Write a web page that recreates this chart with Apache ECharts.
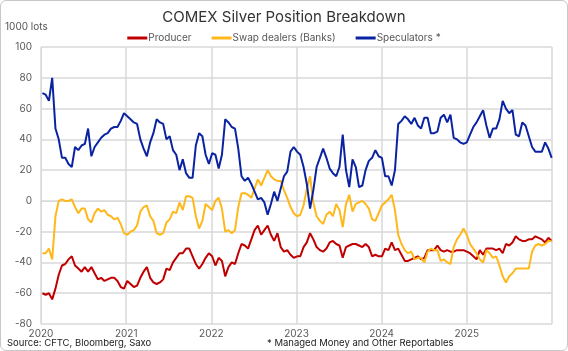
<!DOCTYPE html>
<html>
<head>
<meta charset="utf-8">
<script src="https://cdn.jsdelivr.net/npm/echarts@6/dist/echarts.min.js"></script>
<style>
  html, body { margin: 0; padding: 0; background: #fff; }
  #frame { position: absolute; left: 0; top: 0; width: 566px; height: 349px; border: 1px solid #c8c8c8; border-radius: 6px; overflow: hidden; }
  #chart { width: 566px; height: 349px; }
</style>
</head>
<body>
<div id="frame"><div id="chart"></div></div>
<script>
// fortnightly COT readings, 1000 lots, first report 7 Jan 2020
var producer = [
  -60, -61, -60, -64, -57, -48, -42, -41, -38, -36, -42, -44, -46, -43, -46, -43, -47, -51, -50, -52, -51, -50, -50, -52, -56, -57,
  -52, -54, -56, -55, -50, -46, -43, -50, -53, -54, -53, -51, -44, -45, -40, -37, -34, -34, -31, -31, -36, -41, -44, -41, -37, -34,
  -36, -42, -37, -39, -49, -43, -40, -41, -34, -28, -29, -31, -25, -19, -16, -22, -19, -16, -22, -26, -21, -30, -33, -32, -35, -37,
  -36, -36, -30, -27, -21, -25, -30, -32, -33, -31, -27, -26, -28, -29, -37, -30, -29, -28, -28, -29, -30, -28, -30, -36, -35, -36,
  -36, -31, -32, -27, -32, -31, -35, -39, -39, -38, -37, -36, -38, -37, -32, -32, -32, -29, -32, -33, -32, -33, -33, -32, -32, -32,
  -33, -34, -36, -38, -32, -35, -31, -31, -31, -32, -31, -34, -28, -29, -27, -23, -25, -26, -26, -25, -25, -23, -24, -25, -27, -24, -26
];
var swapDealers = [
  -34, -34, -31, -38, -10, 0, 1, 0, 0, 1, -4, -8, -5, -5, -12, -14, -8, -5, -7, -6, -9, -10, -12, -11, -15, -21,
  -22, -20, -19, -16, -7, -4, -3, -10, -13, -21, -22, -21, -14, -12, -7, -8, -1, -6, 3, 3, 2, -10, -18, -13, -2, -4,
  -6, 0, 2, -5, -20, -19, -21, -19, -4, 5, 5, 4, 2, 8, 14, 10, 15, 20, 16, 14, 13, 13, 7, 2, -4, -8,
  -10, -9, -3, 8, 16, -1, -10, -13, -15, -9, -7, -10, -2, -6, -17, -2, 4, -7, -2, -1, 0, -2, -5, -12, -13, -8,
  -3, -1, 1, 4, -6, -22, -28, -32, -34, -33, -38, -37, -37, -40, -33, -31, -32, -32, -39, -38, -40, -41, -30, -25, -22, -18,
  -22, -28, -31, -34, -38, -40, -32, -34, -37, -36, -42, -49, -53, -49, -47, -44, -44, -44, -44, -44, -33, -29, -28, -29, -28, -26, -26
];
var speculators = [
  70, 69, 65, 80, 47, 40, 28, 28, 24, 22, 35, 33, 36, 37, 47, 29, 35, 38, 41, 43, 44, 47, 48, 48, 52, 57,
  55, 53, 51, 50, 40, 34, 29, 38, 44, 53, 51, 50, 40, 42, 33, 30, 20, 27, 18, 15, 15, 36, 44, 42, 30, 24,
  31, 30, 21, 30, 53, 51, 48, 47, 34, 16, 13, 15, 11, 6, 1, 2, -1, -9, -2, 6, 0, 8, 16, 19, 32, 35,
  32, 30, 22, 11, -5, 7, 22, 28, 34, 28, 21, 18, 16, 22, 43, 20, 9, 27, 22, 9, 10, 20, 26, 28, 33, 29,
  28, 16, 16, 10, 20, 50, 52, 55, 53, 50, 54, 49, 47, 54, 54, 44, 44, 45, 54, 56, 51, 56, 41, 40, 38, 37,
  38, 43, 48, 51, 55, 59, 49, 41, 47, 47, 53, 65, 60, 57, 59, 43, 42, 51, 49, 42, 35, 32, 32, 32, 38, 34, 28
];
var yearTicks = [2020, 2021, 2022, 2023, 2024, 2025];

// report date as fractional year
function when(i) {
  return 2020 + (6 + 14 * i) / 365.25;
}
function pairs(arr) {
  return arr.map(function (v, i) { return [when(i), v]; });
}

var font = 'Inter, Roboto, sans-serif';
var myChart = echarts.init(document.getElementById('chart'));
var option = {
  animation: false,
  textStyle: { fontFamily: font },
  title: {
    text: 'COMEX Silver Position Breakdown',
    left: 'center',
    top: 4,
    textStyle: { fontSize: 15, fontWeight: 'normal', color: '#333', fontFamily: font }
  },
  legend: {
    top: 27,
    left: 'center',
    itemGap: 20,
    itemWidth: 20,
    itemHeight: 3,
    icon: 'rect',
    textStyle: { fontSize: 10, color: '#555', fontFamily: font, padding: [0, 0, 0, -4] },
    data: ['Producer', 'Swap dealers (Banks)', 'Speculators *']
  },
  graphic: [
    { type: 'text', left: 4, top: 21, style: { text: '1000 lots', fontSize: 10, fill: '#555', fontFamily: font } },
    { type: 'text', left: 6, top: 337, style: { text: 'Source: CFTC, Bloomberg, Saxo', fontSize: 9.5, fill: '#222', fontFamily: font } },
    { type: 'text', left: 266, top: 337, style: { text: '* Managed Money and Other Reportables', fontSize: 9.5, fill: '#222', fontFamily: font } }
  ],
  grid: { left: 40, right: 15, top: 46, bottom: 26 },
  xAxis: {
    type: 'value',
    min: 2020,
    max: 2026,
    interval: 1,
    axisLine: { show: true, lineStyle: { color: '#d9d9d9' } },
    axisTick: { show: false },
    splitLine: { show: true, lineStyle: { color: '#d9d9d9', width: 1.5 } },
    axisLabel: {
      color: '#595959', fontSize: 10, margin: 5, fontFamily: font,
      formatter: function (v) { return yearTicks.indexOf(v) >= 0 ? String(v) : ''; }
    }
  },
  yAxis: {
    type: 'value',
    min: -80,
    max: 100,
    interval: 20,
    axisLine: { show: true, lineStyle: { color: '#d9d9d9' } },
    axisTick: { show: false },
    splitLine: { show: true, lineStyle: { color: '#d9d9d9', width: 1.5 } },
    axisLabel: { color: '#595959', fontSize: 10, margin: 9, fontFamily: font }
  },
  series: [
    { name: 'Producer', type: 'line', data: pairs(producer), showSymbol: false, color: '#C00000', lineStyle: { width: 2 } },
    { name: 'Swap dealers (Banks)', type: 'line', data: pairs(swapDealers), showSymbol: false, color: '#FFB81C', lineStyle: { width: 2 } },
    { name: 'Speculators *', type: 'line', data: pairs(speculators), showSymbol: false, color: '#0A23A3', lineStyle: { width: 2 } }
  ]
};
myChart.setOption(option);
</script>
</body>
</html>
